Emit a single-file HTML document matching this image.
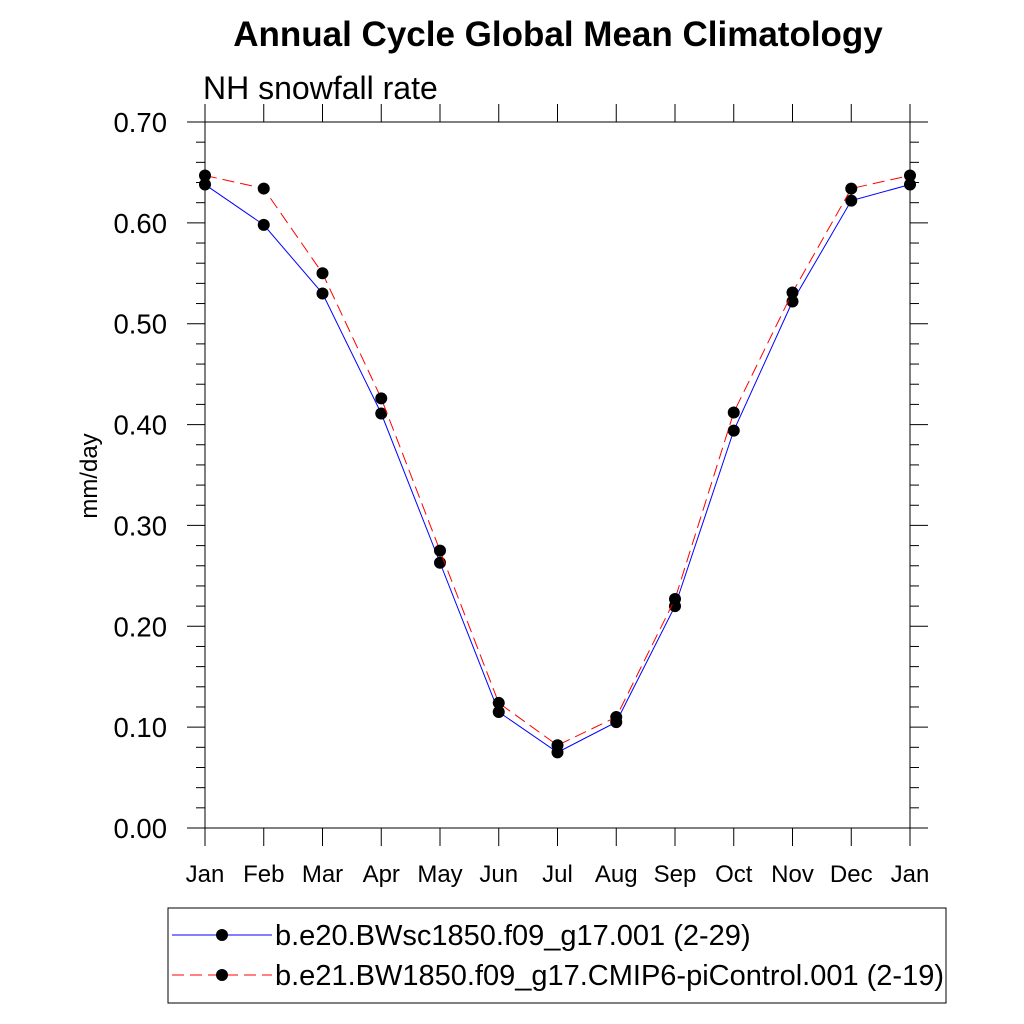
<!DOCTYPE html>
<html><head><meta charset="utf-8"><style>
html,body{margin:0;padding:0;background:#fff}
svg{display:block;font-family:"Liberation Sans",sans-serif}
</style></head><body>
<svg id="chart" width="1024" height="1024" xmlns="http://www.w3.org/2000/svg">
<text x="558" y="46" text-anchor="middle" font-size="35" font-weight="bold">Annual Cycle Global Mean Climatology</text>
<text x="203" y="99" font-size="32">NH snowfall rate</text>
<text transform="translate(97,476) rotate(-90)" text-anchor="middle" font-size="24">mm/day</text>
<g id="axes"></g>
<g id="series"></g>
<g>
<rect x="168" y="908" width="778" height="95" fill="none" stroke="#000" stroke-width="1"/>
<g>
<line x1="172" y1="935" x2="272" y2="935" stroke="#00f" stroke-width="1"/>
<circle cx="222" cy="935" r="6" fill="#000"/>
<text x="275" y="945" font-size="29">b.e20.BWsc1850.f09_g17.001 (2-29)</text>
</g>
<g>
<line x1="172" y1="975" x2="272" y2="975" stroke="#f00" stroke-width="1" stroke-dasharray="12,6"/>
<circle cx="222" cy="975" r="6" fill="#000"/>
<text x="275" y="985" font-size="29">b.e21.BW1850.f09_g17.CMIP6-piControl.001 (2-19)</text>
</g>
</g>
</svg>
<script>
const months = ["Jan","Feb","Mar","Apr","May","Jun","Jul","Aug","Sep","Oct","Nov","Dec","Jan"];
const blueValues = [0.638,0.598,0.530,0.411,0.263,0.115,0.075,0.105,0.220,0.394,0.522,0.622,0.638];
const redValues = [0.647,0.634,0.550,0.426,0.275,0.124,0.082,0.110,0.227,0.412,0.531,0.634,0.647];
const yTicks = ["0.00","0.10","0.20","0.30","0.40","0.50","0.60","0.70"];
const NS="http://www.w3.org/2000/svg";
const X0=205,X1=910,Y0=828,Y1=122,YMAX=0.7;
const xs=i=>X0+(X1-X0)*i/(months.length-1);
const ys=v=>Y0-(Y0-Y1)*v/YMAX;
function mk(t,a,p){const e=document.createElementNS(NS,t);for(const k in a)e.setAttribute(k,a[k]);p.appendChild(e);return e;}
const ax=document.getElementById('axes');
const frame=mk('rect',{x:X0,y:Y1,width:X1-X0,height:Y0-Y1,fill:'none',stroke:'#000','stroke-width':1},ax);


months.forEach((m,i)=>{
  const x=xs(i);
  mk('line',{x1:x,y1:Y0,x2:x,y2:Y0+18,stroke:'#000'},ax);
  mk('line',{x1:x,y1:Y1,x2:x,y2:Y1-18,stroke:'#000'},ax);
  const t=mk('text',{x:x,y:Y0+54,'text-anchor':'middle','font-size':24},ax);
  t.textContent=m;
  
  
});
for(let k=0;k<=35;k++){
  const v=k*0.02,y=ys(v),len=(k%5===0)?18:9;
  mk('line',{x1:X0,y1:y,x2:X0-len,y2:y,stroke:'#000'},ax);
  mk('line',{x1:X1,y1:y,x2:X1+len,y2:y,stroke:'#000'},ax);
}
yTicks.forEach(s=>{
  const t=mk('text',{x:X0-38,y:ys(parseFloat(s))+10,'text-anchor':'end','font-size':27.5},ax);
  t.textContent=s;
  
  
});
const sg=document.getElementById('series');
function draw(vals,color,dash,name){
  const pl=mk('polyline',{points:vals.map((v,i)=>xs(i)+','+ys(v)).join(' '),fill:'none',stroke:color,'stroke-width':1,'stroke-dasharray':dash},sg);
  
  
  vals.forEach((v,i)=>{
    const c=mk('circle',{cx:xs(i),cy:ys(v),r:6,fill:'#000'},sg);
    
    
  });
}
draw(blueValues,'#00f','none','blue-series');
draw(redValues,'#f00','12,6','red-series');
</script>
</body></html>
